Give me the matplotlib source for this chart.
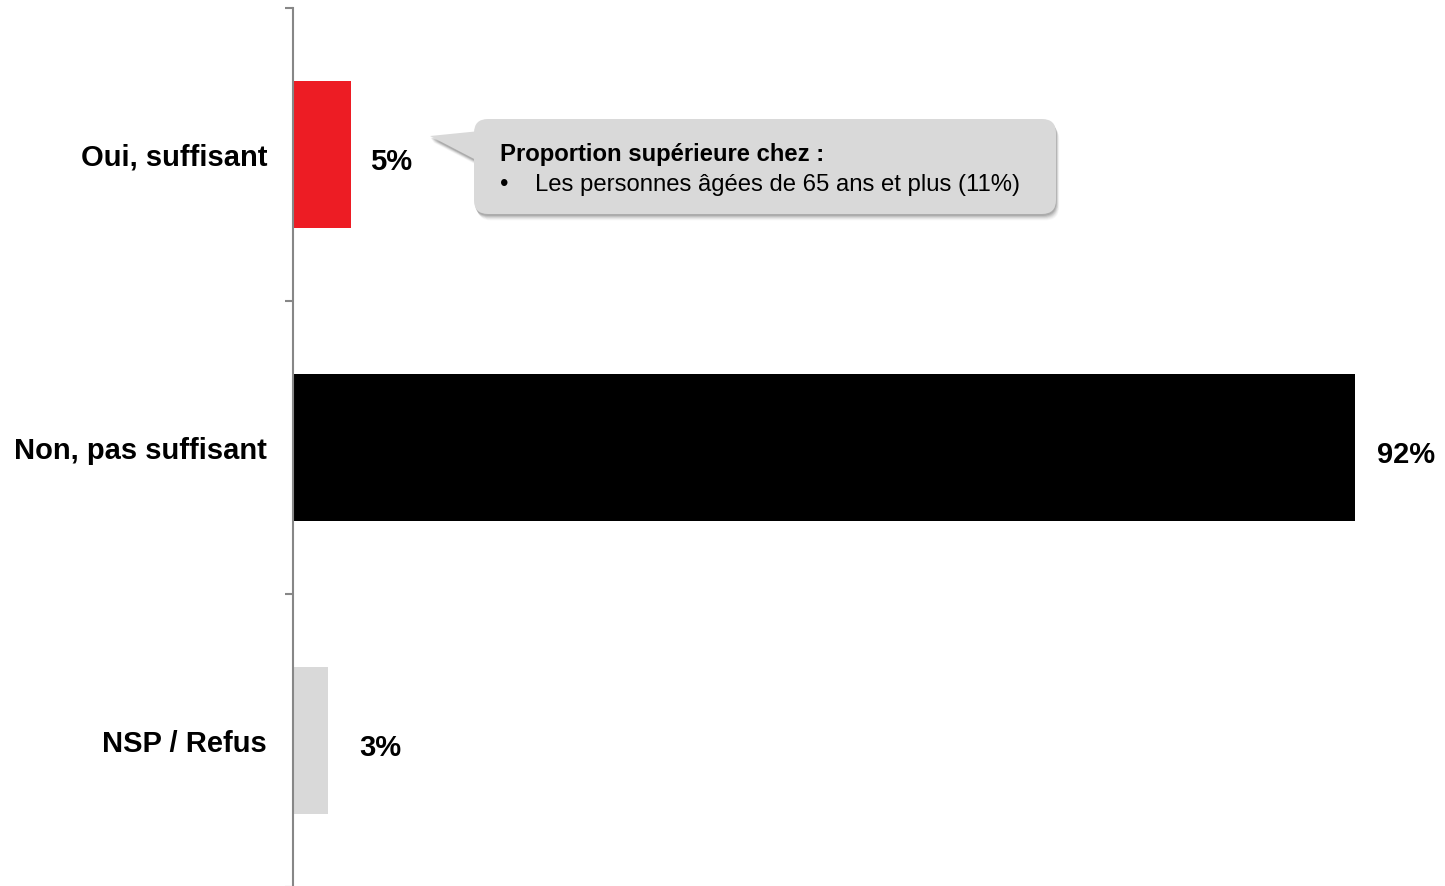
import matplotlib
matplotlib.use("Agg")
import matplotlib.pyplot as plt
from matplotlib.patches import FancyBboxPatch, Polygon

# ---- data ----
categories = ["Oui, suffisant", "Non, pas suffisant", "NSP / Refus"]
values = [5, 92, 3]
value_labels = ["5%", "92%", "3%"]
callout_title = "Proportion supérieure chez :"
callout_items = ["Les personnes âgées de 65 ans et plus (11%)"]

# ---- style ----
bar_colors = ["#ED1C24", "#000000", "#D9D9D9"]
label_dx_pt = [13.7, 15.8, 23.0]
axis_gray = "#878787"

plt.rcParams['font.family'] = ['Liberation Sans', 'DejaVu Sans']

W, H = 1445, 886
fig = plt.figure(figsize=(W / 100, H / 100), dpi=100)
left_px, top_px, ax_h_px = 293, 8, 879
ax = fig.add_axes([left_px / W, (H - top_px - ax_h_px) / H, 1 - left_px / W, ax_h_px / H])

px_per_unit = (1355 - 293) / 92.0
ax.set_xlim(0, (W - left_px) / px_per_unit)
ax.set_ylim(len(categories) - 0.5, -0.5)

ypos = list(range(len(categories)))
ax.barh(ypos, values, height=0.5, color=bar_colors, zorder=2)

for yi, v, lab, dx in zip(ypos, values, value_labels, label_dx_pt):
    ax.annotate(lab, xy=(v, yi), xytext=(dx, -3.5), textcoords="offset points",
                ha="left", va="center_baseline", fontsize=21, fontweight="bold",
                color="black", annotation_clip=False)

for s in ["top", "right", "bottom"]:
    ax.spines[s].set_visible(False)
ax.spines["left"].set_color(axis_gray)
ax.spines["left"].set_linewidth(1.5)

ax.set_xticks([])
ax.set_yticks(ypos, categories)
ax.set_yticks([i - 0.5 for i in range(len(categories) + 1)], minor=True)
ax.tick_params(axis="y", which="major", length=0, pad=18.7, labelsize=21)
ax.tick_params(axis="y", which="minor", length=5.8, width=1.5, color=axis_gray)
for t in ax.get_yticklabels():
    t.set_fontweight("bold")

# ---- callout overlay (figure pixel coordinates) ----
ov = fig.add_axes([0, 0, 1, 1], zorder=5)
ov.set_xlim(0, W)
ov.set_ylim(H, 0)
ov.axis("off")
ov.patch.set_alpha(0)

bx, by, bw, bh = 474, 119, 582, 95
tip = [(430, 136), (480, 131), (480, 162)]
box_col = "#D9D9D9"

for i, a in zip(range(1, 7), [0.10, 0.08, 0.07, 0.05, 0.04, 0.03]):
    off = i * 0.9
    ov.add_patch(FancyBboxPatch((bx + off * 0.6, by + off + 1), bw, bh,
                                boxstyle="round,pad=0,rounding_size=14",
                                fc="black", ec="none", alpha=a))
    ov.add_patch(Polygon([(x + off * 0.6, y + off + 1) for x, y in tip],
                         closed=True, fc="black", ec="none", alpha=a))

ov.add_patch(FancyBboxPatch((bx, by), bw, bh,
                            boxstyle="round,pad=0,rounding_size=14",
                            fc=box_col, ec="none"))
ov.add_patch(Polygon(tip, closed=True, fc=box_col, ec="none"))

ov.text(500, 161, callout_title, fontsize=17.2, fontweight="bold",
        va="baseline", ha="left", color="black")
for k, item in enumerate(callout_items):
    yb = 191 + k * 30
    ov.text(500, yb, "•", fontsize=17.2, va="baseline", ha="left", color="black")
    ov.text(535, yb, item, fontsize=17.2, va="baseline", ha="left", color="black")

fig.savefig("out.png", dpi=100)
